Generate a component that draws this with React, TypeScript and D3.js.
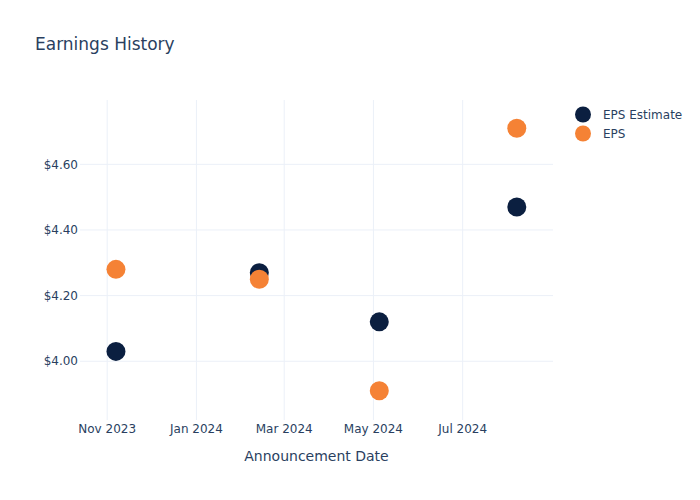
import React from "react";
import * as d3 from "d3";

const dates = ["2023-11-07", "2024-02-13", "2024-05-05", "2024-08-07"];
const epsEstimate = [4.03, 4.27, 4.12, 4.47];
const epsActual = [4.28, 4.25, 3.91, 4.71];
const yTicks = [4.0, 4.2, 4.4, 4.6];
const xTicks = ["2023-11-01", "2024-01-01", "2024-03-01", "2024-05-01", "2024-07-01"];
const seriesNames = ["EPS Estimate", "EPS"];
const seriesColors = ["#0b1f40", "#f58235"];

const W = 700, H = 500;
const m = { l: 80, r: 147, t: 100, b: 80 };
const FONT = "'DejaVu Sans', 'Open Sans', sans-serif";
const TXT = "#2a3f5f";
const GRID = "#ebf0f8";

export default function App() {
  const parse = d3.utcParse("%Y-%m-%d");
  const x0 = new Date(Date.UTC(2023, 9, 13, 10));
  const x1 = new Date(Date.UTC(2024, 7, 31, 18));
  const x = d3.scaleUtc().domain([x0, x1]).range([m.l, W - m.r]);
  const y = d3.scaleLinear().domain([3.821, 4.796]).range([H - m.b, m.t]);
  const fmtX = d3.utcFormat("%b %Y");
  const fmtY = (v: number) => "$" + d3.format(".2f")(v);
  const series = [epsEstimate, epsActual];

  return (
    <svg width={W} height={H} style={{ position: "absolute", left: 0, top: 0, background: "#fff" }} fontFamily={FONT}>
      <rect x={0} y={0} width={W} height={H} fill="#fff" />
      <g>
        {xTicks.map((t) => (
          <line key={t} x1={x(parse(t)!)} x2={x(parse(t)!)} y1={m.t} y2={H - m.b} stroke={GRID} strokeWidth={1} />
        ))}
        {yTicks.map((t) => (
          <line key={t} x1={m.l} x2={W - m.r} y1={y(t)} y2={y(t)} stroke={GRID} strokeWidth={1} />
        ))}
      </g>
      <g>
        {xTicks.map((t) => (
          <text key={t} x={x(parse(t)!)} y={H - m.b + 13} textAnchor="middle" fontSize={12} fill={TXT}>
            {fmtX(parse(t)!)}
          </text>
        ))}
        {yTicks.map((t) => (
          <text key={t} x={m.l - 2} y={y(t)} dy="0.35em" textAnchor="end" fontSize={12} fill={TXT}>
            {fmtY(t)}
          </text>
        ))}
      </g>
      <text x={(m.l + W - m.r) / 2} y={461} textAnchor="middle" fontSize={14} fill={TXT}>
        Announcement Date
      </text>
      <text x={35} y={50} fontSize={17} fill={TXT}>
        Earnings History
      </text>
      {series.map((vals, si) => (
        <g key={si}>
          {vals.map((v, i) => (
            <circle key={i} cx={x(parse(dates[i])!)} cy={y(v)} r={9.5} fill={seriesColors[si]} />
          ))}
        </g>
      ))}
      <g>
        {seriesNames.map((n, i) => (
          <g key={n} transform={`translate(583, ${114.5 + i * 19})`}>
            <circle cx={0} cy={0} r={8} fill={seriesColors[i]} />
            <text x={20} y={0} dy="0.35em" fontSize={12} fill={TXT}>
              {n}
            </text>
          </g>
        ))}
      </g>
    </svg>
  );
}
